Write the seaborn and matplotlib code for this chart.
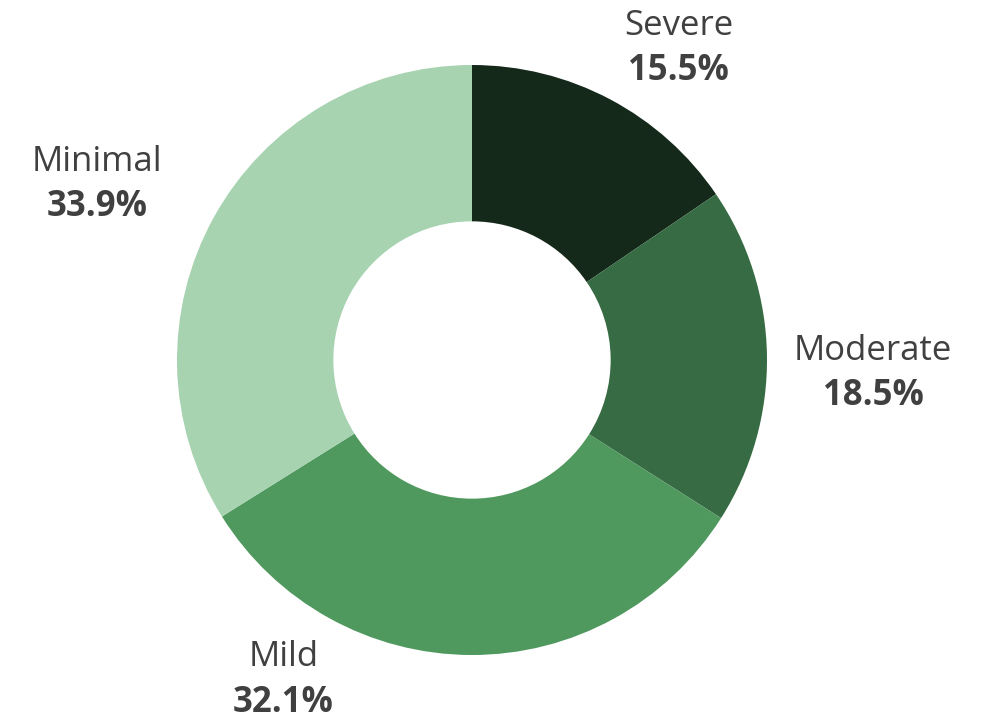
import numpy as np
import matplotlib
matplotlib.use("Agg")
import matplotlib.pyplot as plt
import seaborn as sns

# data
categories = ["Severe", "Moderate", "Mild", "Minimal"]
shares = [15.5, 18.5, 32.1, 33.9]
colors = ["#15291a", "#376b43", "#4f985e", "#a7d3b0"]

# label anchor positions (in pie radius units)
label_pos = {
    "Severe": (0.70, 1.055),
    "Moderate": (1.36, -0.045),
    "Mild": (-0.64, -1.085),
    "Minimal": (-1.27, 0.595),
}

sns.set_theme(style="white")
plt.rcParams['font.family'] = ['Open Sans', 'DejaVu Sans']

fig = plt.figure(figsize=(9.92, 7.21), dpi=100)
ax = fig.add_axes([0, 0, 1, 1])

ax.pie(shares, colors=colors, startangle=90, counterclock=False,
       radius=1.0, wedgeprops=dict(width=0.53, edgecolor="white", linewidth=0))

for cat, val in zip(categories, shares):
    x, y = label_pos[cat]
    ax.text(x, y + 0.077, cat, ha="center", va="center", fontsize=25, color="#404040")
    ax.text(x, y - 0.077, f"{val:.1f}%", ha="center", va="center", fontsize=25,
            fontweight="bold", color="#404040")

ax.set_xlim(-472 / 295, 520 / 295)
ax.set_ylim(-361 / 295, 360 / 295)
ax.set_aspect("auto")
ax.axis("off")

fig.savefig("out.png", dpi=100)
